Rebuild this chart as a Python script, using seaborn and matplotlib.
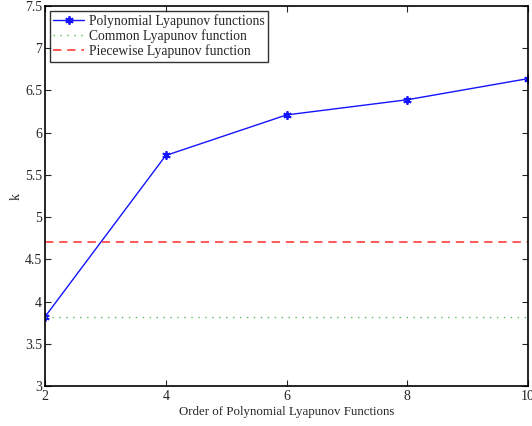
import numpy as np
import pandas as pd
import seaborn as sns
import matplotlib
matplotlib.use("Agg")
import matplotlib.pyplot as plt

orders = [2, 4, 6, 8, 10]
poly_k = [3.82, 5.73, 6.21, 6.39, 6.64]
common_k = 3.815
piecewise_k = 4.70

df = pd.DataFrame({"order": orders, "k": poly_k})

sns.set_style("ticks")
plt.rcParams['font.family'] = ['Liberation Serif', 'DejaVu Serif']
plt.rcParams['xtick.direction'] = 'in'
plt.rcParams['ytick.direction'] = 'in'

fig = plt.figure(figsize=(5.32, 4.26), dpi=100)
ax = fig.add_axes([0.0846, 0.0939, 0.9079, 0.892])

# matlab style asterisk marker
sns.lineplot(data=df, x="order", y="k", ax=ax, color="#1414ff", lw=1.0,
             marker=(6, 2, 0), markersize=6, markeredgewidth=1.3,
             markeredgecolor="#1414ff",
             label="Polynomial Lyapunov functions")
ax.axhline(common_k, color="#5cb85c", ls=(0, (1, 4)), lw=1.0,
           label="Common Lyapunov function")
ax.axhline(piecewise_k, color="#ff3c3c", ls=(0, (5, 3.5)), lw=1.2,
           label="Piecewise Lyapunov function")

ax.set_xlim(2, 10)
ax.set_ylim(3, 7.5)
ax.set_xticks([2, 4, 6, 8, 10])
ax.set_yticks(np.arange(3, 7.51, 0.5))
ax.set_yticklabels(["3", "3.5", "4", "4.5", "5", "5.5", "6", "6.5", "7", "7.5"])
ax.tick_params(labelsize=10, length=4, width=0.8, top=True, right=True)
ax.tick_params(axis="x", pad=3)
ax.tick_params(axis="y", pad=2)
ax.set_xlabel("Order of Polynomial Lyapunov Functions", fontsize=9.3, labelpad=2)
ax.set_ylabel("k", fontsize=10, labelpad=2)
for s in ax.spines.values():
    s.set_linewidth(1.2)
    s.set_color("black")

leg = ax.legend(loc="upper left", fontsize=9.8, frameon=True, fancybox=False,
                edgecolor="black", handlelength=2.3, borderaxespad=0.35,
                borderpad=0.25, labelspacing=0.1, handletextpad=0.3)
leg.get_frame().set_linewidth(1.0)

fig.savefig("out.png", dpi=100)
